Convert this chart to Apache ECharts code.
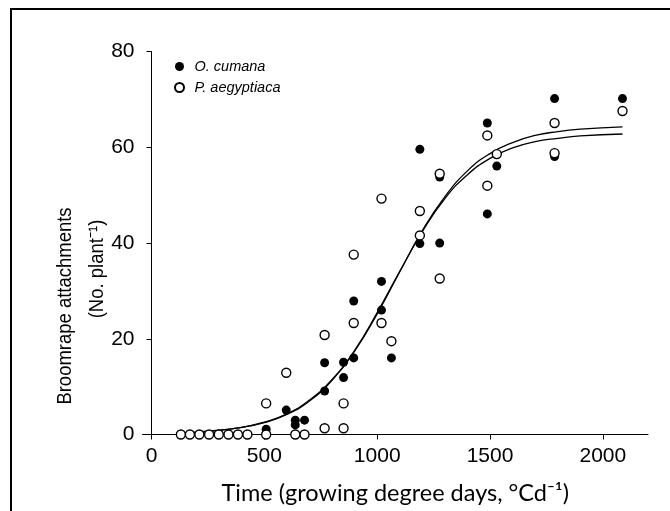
<!DOCTYPE html>
<html>
<head>
<meta charset="utf-8">
<script src="https://cdn.jsdelivr.net/npm/echarts@6/dist/echarts.min.js"></script>
<style>
  body { margin: 0; background: #fff; }
  #frame {
    position: absolute; left: 10px; top: 8px; width: 660px; height: 503px;
    border-left: 2px solid #000; border-top: 2px solid #000;
  }
  #broomrape { position: absolute; left: 0; top: 0; width: 670px; height: 511px; }
</style>
</head>
<body>
<div id="frame"></div>
<div id="broomrape"></div>
<script>
// O. cumana (filled) [GDD, attachments per plant]
var cumanaPoints = [
  [508, 1.1], [597, 5.1], [637, 3.0], [637, 2.0], [678, 3.0],
  [767, 15.0], [767, 9.1], [851, 15.1], [851, 11.9], [896, 27.9], [896, 16.0],
  [1019, 32.0], [1019, 26.0], [1063, 16.0], [1189, 59.6], [1189, 39.9],
  [1277, 40.0], [1277, 53.8], [1488, 65.1], [1488, 46.1], [1530, 56.1],
  [1786, 70.2], [1786, 58.1], [2087, 70.2]
];
// P. aegyptiaca (open)
var aegyptiacaPoints = [
  [130, 0], [170, 0], [212, 0], [255, 0], [298, 0], [341, 0], [383, 0], [425, 0],
  [508, 0], [508, 6.5], [597, 12.9], [637, 0], [678, 0],
  [767, 20.8], [767, 1.3], [851, 6.5], [851, 1.3], [896, 37.6], [896, 23.3],
  [1019, 49.3], [1019, 23.3], [1063, 19.5], [1189, 46.7], [1189, 41.6],
  [1277, 54.5], [1277, 32.6], [1488, 62.5], [1488, 52.0], [1530, 58.6],
  [1786, 65.1], [1786, 58.8], [2087, 67.6]
];
// fitted curves
var curveX = [130, 250, 400, 500, 600, 700, 800, 900, 1000, 1100, 1200, 1300, 1400, 1500, 1600, 1700, 1800, 1900, 2087];
var curveUpper = [0.3, 0.6, 1.5, 2.5, 4.2, 7.0, 11.3, 17.4, 25.2, 34.0, 42.6, 49.7, 55.1, 58.7, 61.0, 62.5, 63.3, 63.8, 64.3];
var curveLower = [0.3, 0.7, 1.5, 2.6, 4.3, 7.2, 11.5, 17.6, 25.5, 34.1, 42.4, 49.3, 54.3, 57.7, 59.9, 61.2, 61.9, 62.4, 62.8];
var xTicks = [0, 500, 1000, 1500, 2000];

function pairUp(xs, ys) {
  return xs.map(function (x, i) { return [x, ys[i]]; });
}

var chart = echarts.init(document.getElementById("broomrape"));
var options = {
  animation: false,
  textStyle: { fontFamily: "Liberation Sans", color: "#000" },
  grid: { left: 142.5, top: 51.7, width: 505.5, height: 382.8 },
  legend: {
    orient: "vertical",
    left: 169,
    top: 54,
    itemGap: 6,
    itemWidth: 20,
    itemHeight: 9,
    data: ["O. cumana", "P. aegyptiaca"],
    textStyle: { fontSize: 14.5, fontStyle: "italic", color: "#000", fontFamily: "Liberation Sans" }
  },
  xAxis: {
    type: "value",
    min: -40,
    max: 2200,
    name: "Time (growing degree days, °Cd⁻¹)",
    nameLocation: "middle",
    nameGap: 47,
    nameTextStyle: { fontSize: 23.5, fontFamily: "Lato", color: "#000" },
    axisLine: { lineStyle: { color: "#000", width: 1 } },
    axisTick: { customValues: xTicks, length: 5, lineStyle: { color: "#000" } },
    axisLabel: {
      customValues: xTicks, fontSize: 21, margin: 11, color: "#000",
      formatter: function (v) { return String(v); }
    },
    splitLine: { show: false }
  },
  yAxis: {
    type: "value",
    min: 0,
    max: 80,
    interval: 20,
    axisLine: { show: true, onZero: true, lineStyle: { color: "#000", width: 1 } },
    axisTick: { show: true, length: 5, lineStyle: { color: "#000" } },
    axisLabel: { fontSize: 21, margin: 8, color: "#000" },
    splitLine: { show: false }
  },
  graphic: [
    {
      type: "text", x: 65, y: 306, rotation: Math.PI / 2, scaleX: 0.88,
      style: { text: "Broomrape attachments", fontSize: 21, fontFamily: "Liberation Sans", fill: "#000", align: "center", verticalAlign: "middle" }
    },
    {
      type: "text", x: 97, y: 269, rotation: Math.PI / 2, scaleX: 0.88,
      style: { text: "(No. plant⁻¹)", fontSize: 21, fontFamily: "Liberation Sans", fill: "#000", align: "center", verticalAlign: "middle" }
    }
  ],
  series: [
    {
      name: "curveUpper", type: "line", smooth: true, showSymbol: false, silent: true,
      data: pairUp(curveX, curveUpper), lineStyle: { color: "#000", width: 1.3 }, z: 1
    },
    {
      name: "curveLower", type: "line", smooth: true, showSymbol: false, silent: true,
      data: pairUp(curveX, curveLower), lineStyle: { color: "#000", width: 1.3 }, z: 1
    },
    {
      name: "O. cumana", type: "scatter", symbol: "circle", symbolSize: 9,
      data: cumanaPoints, itemStyle: { color: "#000", opacity: 1 }, z: 3
    },
    {
      name: "P. aegyptiaca", type: "scatter", symbol: "circle", symbolSize: 9,
      data: aegyptiacaPoints, itemStyle: { color: "#fff", borderColor: "#000", borderWidth: 1.4, opacity: 1 }, z: 4
    }
  ]
};
chart.setOption(options);
</script>
</body>
</html>
